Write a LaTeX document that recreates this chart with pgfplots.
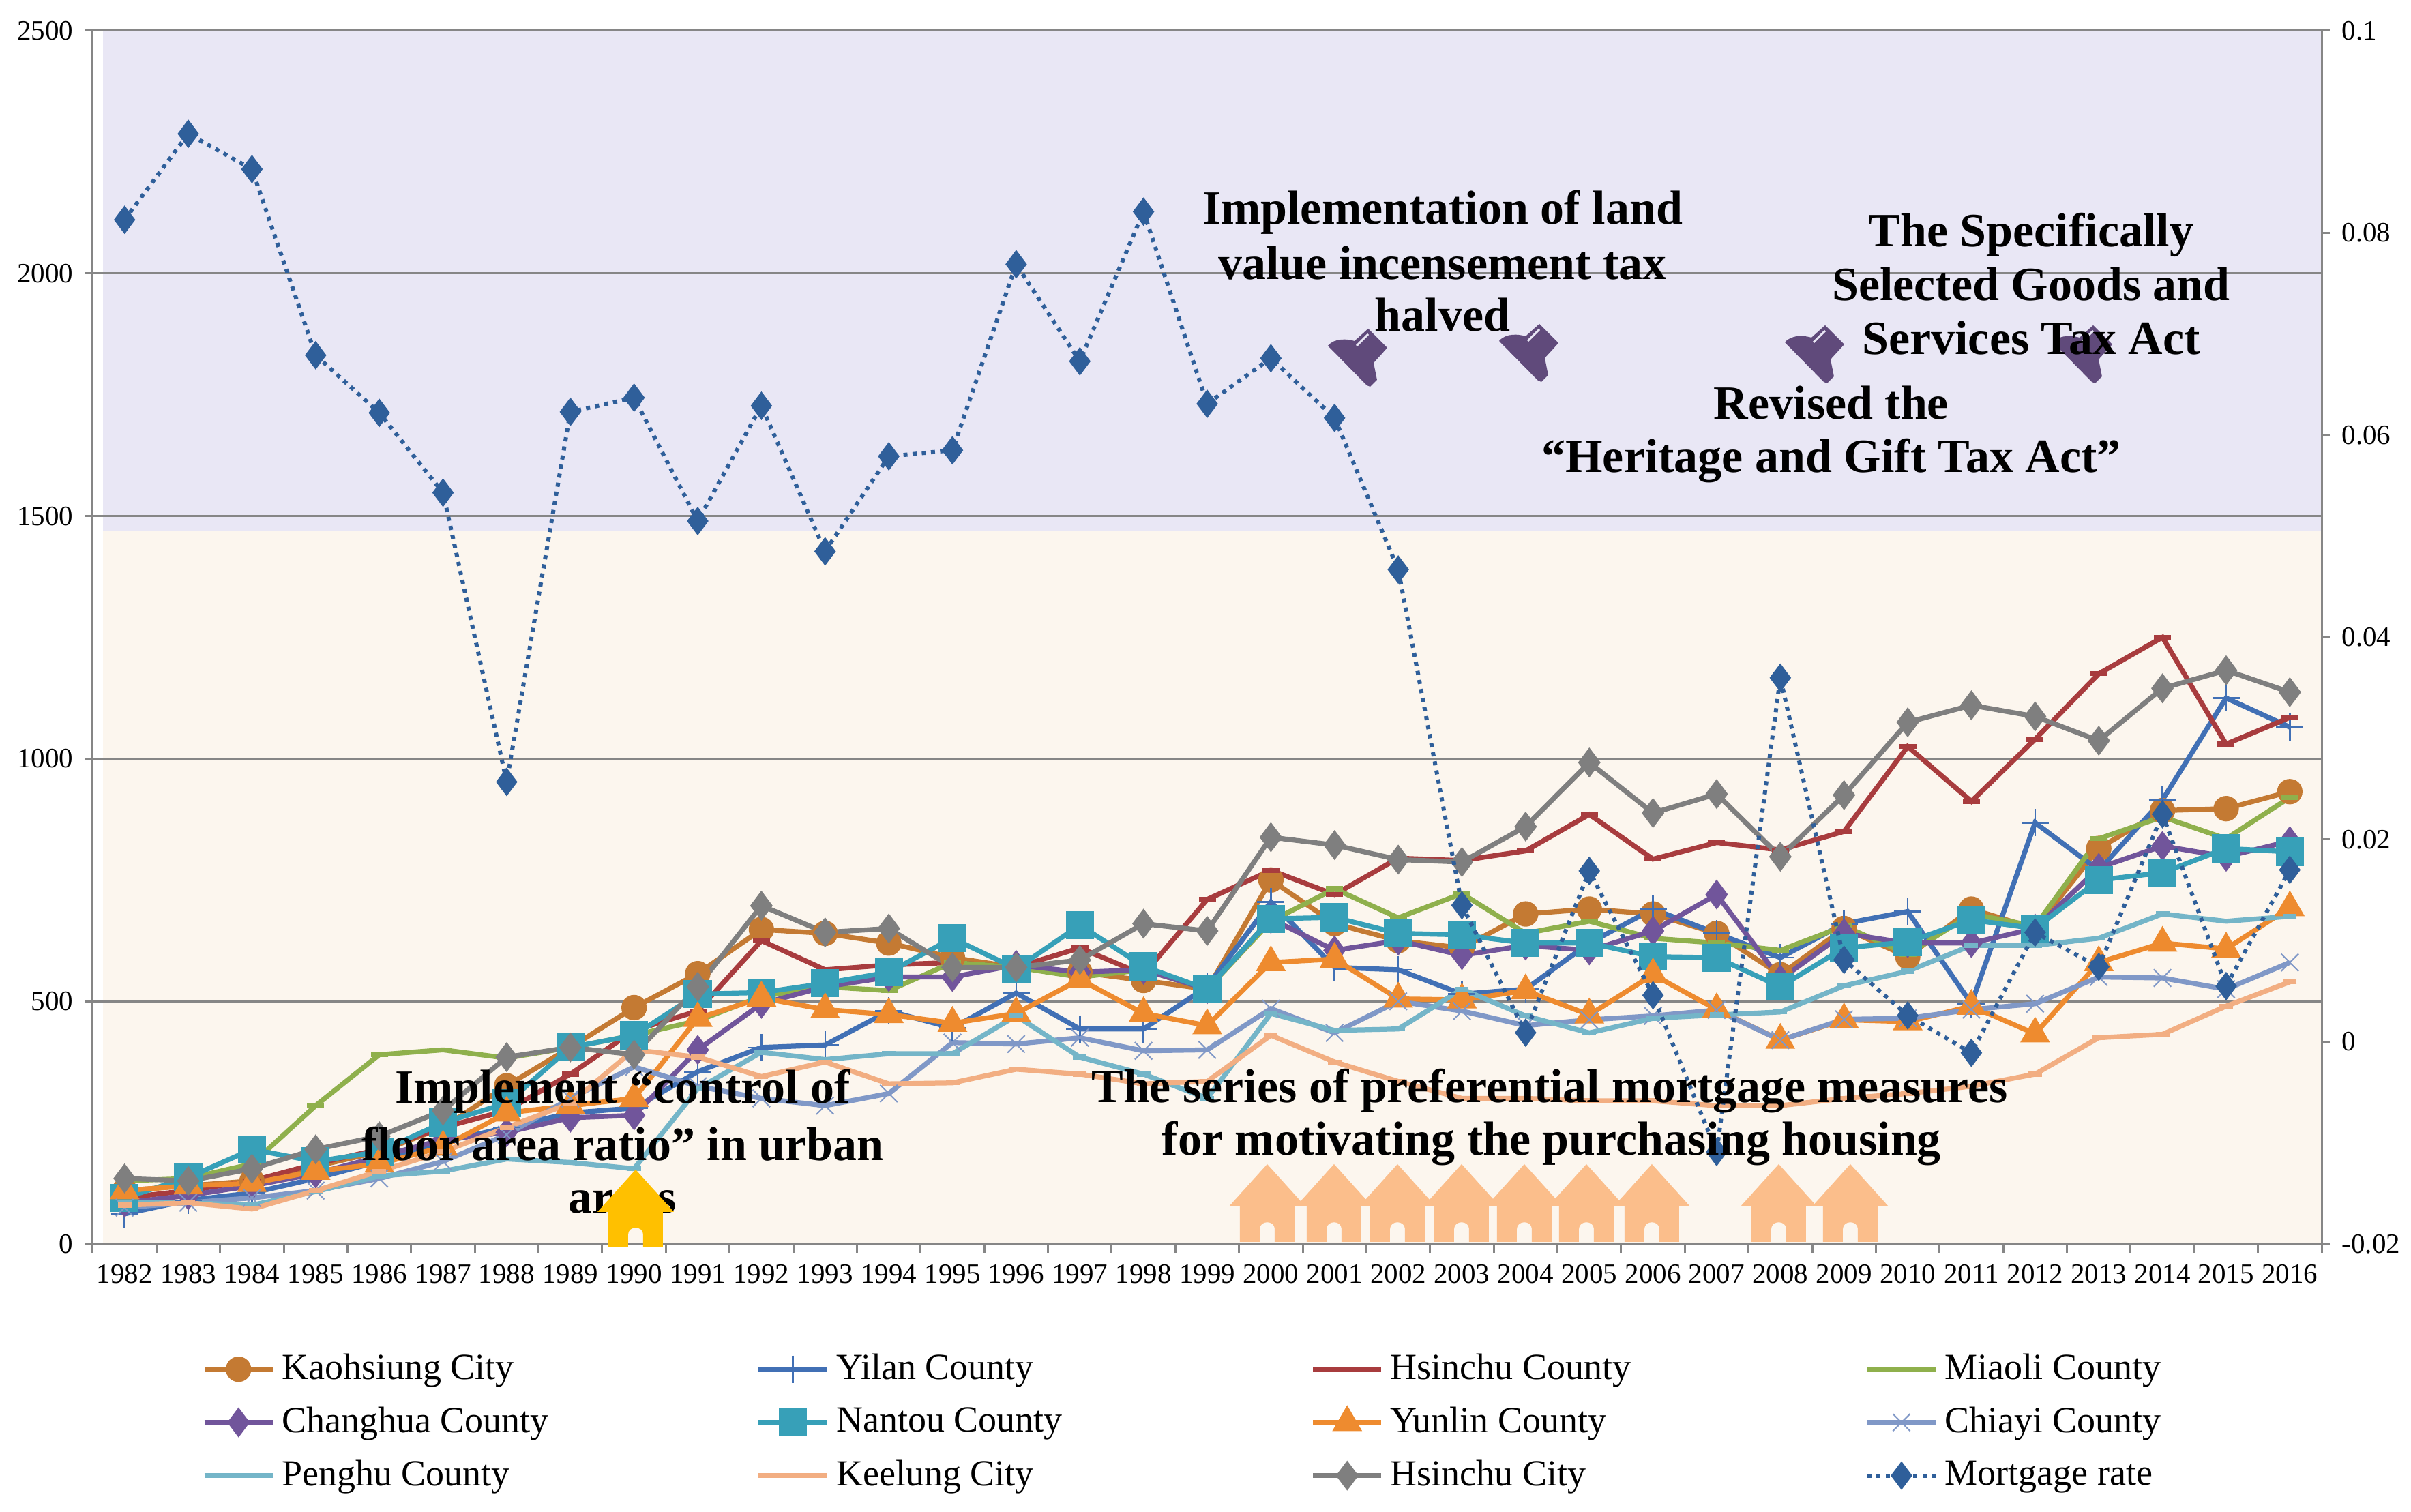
\documentclass[border=0pt]{standalone}
\usepackage{fontspec}
\usepackage{pgfplots}
\usepackage{pgfplotstable}
\pgfplotsset{compat=1.18}
\setmainfont{Liberation Serif}

\definecolor{axisgray}{HTML}{868686}
\definecolor{bandtop}{HTML}{E9E7F5}
\definecolor{bandlow}{HTML}{FCF6EE}
\definecolor{ckao}{HTML}{C47A33}
\definecolor{cyil}{HTML}{4170B5}
\definecolor{chcc}{HTML}{A83C3E}
\definecolor{cmia}{HTML}{8FB04C}
\definecolor{ccha}{HTML}{71559B}
\definecolor{cnan}{HTML}{37A0B8}
\definecolor{cyun}{HTML}{EE8B2F}
\definecolor{cchi}{HTML}{8098C7}
\definecolor{cpen}{HTML}{74B5C8}
\definecolor{ckee}{HTML}{F2AE82}
\definecolor{chct}{HTML}{7F7F7F}
\definecolor{cmor}{HTML}{2F5F9A}
\definecolor{chouse}{HTML}{FBBE8B}
\definecolor{cyellow}{HTML}{FFC000}
\definecolor{cbell}{HTML}{604A7B}

\pgfplotstableread{
idx kao yil hcc mia cha nan yun chi pen kee hct mor
0 110 62 95 130 85 95 110 75 85 80 135 0.0813
1 120 90 110 135 100 137 120 85 85 85 130 0.0898
2 130 105 130 165 120 195 125 95 80 72 155 0.0863
3 160 135 165 285 145 170 150 110 108 110 195 0.0679
4 190 170 195 390 180 190 165 135 140 150 222 0.0622
5 240 210 240 400 215 250 200 170 150 190 275 0.0543
6 326 240 275 383 230 290 270 225 175 240 385 0.0257
7 405 270 350 405 260 405 285 300 168 290 405 0.0623
8 487 280 440 430 265 430 300 365 155 400 390 0.0637
9 557 355 480 460 400 515 465 325 320 385 530 0.0515
10 648 405 625 510 495 518 507 300 395 345 697 0.0629
11 640 410 565 530 530 537 483 285 380 375 642 0.0485
12 620 480 575 522 550 560 473 310 392 330 650 0.0579
13 590 445 580 580 550 630 455 415 392 332 570 0.0585
14 570 517 570 570 575 567 475 412 470 360 570 0.0769
15 560 443 610 550 560 657 545 425 385 350 585 0.0673
16 543 443 555 565 565 572 475 398 350 330 660 0.0821
17 525 530 710 525 525 525 450 400 300 335 645 0.0631
18 750 705 770 665 670 670 580 485 475 430 838 0.0676
19 660 570 720 732 605 673 587 435 440 375 822 0.0617
20 625 565 795 672 625 640 505 500 443 335 792 0.0467
21 610 515 790 722 595 637 503 480 525 300 787 0.0135
22 680 525 810 640 615 620 522 450 470 300 860 0.0009
23 690 620 885 665 605 620 472 462 435 295 992 0.0169
24 680 690 793 630 645 592 555 470 465 295 888 0.0046
25 640 640 827 620 720 590 483 482 472 285 927 -0.0109
26 555 590 812 605 545 530 420 420 478 285 798 0.036
27 650 660 850 655 640 610 462 463 532 300 925 0.0081
28 592 685 1025 597 620 622 458 465 562 310 1075 0.0026
29 690 495 912 680 620 668 490 483 615 325 1110 -0.0011
30 650 868 1040 655 650 650 433 495 615 350 1087 0.0108
31 815 770 1175 835 775 750 580 550 630 425 1037 0.0074
32 893 915 1250 880 820 765 620 548 680 432 1145 0.0225
33 897 1125 1030 835 798 815 608 525 665 490 1182 0.0055
34 932 1065 1085 920 830 808 693 580 675 540 1137 0.017
}\datatable

% house and bell icons, coordinates in reference pixels
\newcommand{\house}[3]{%
  \fill[#3, shift={(#1,#2)}] (0,1707) -- (56,1769) -- (40,1769) -- (40,1821) -- (11,1821) -- (11,1802)
    .. controls (11,1789) and (-11,1789) .. (-11,1802) -- (-11,1821) -- (-40,1821) -- (-40,1769) -- (-56,1769) -- cycle;}
\newcommand{\bell}[2]{%
  \fill[cbell, shift={(#1,#2)}] (0,0) -- (10,-10) -- (5,-35) -- (25,-57) -- (-3,-85) -- (-23,-67)
    .. controls (-33,-70) and (-52,-72) .. (-62,-60) -- (-5,-2) -- cycle;
  \draw[bandtop, line width=0.6pt, shift={(#1,#2)}] (-20,-60) -- (-3,-77);}

\pgfplotsset{
  ser/.style={line width=1.45pt, mark options={solid}},
  legend image code/.code={
    \draw[mark repeat=2,mark phase=2,#1] plot coordinates {(0pt,0pt)(10pt,0pt)(20pt,0pt)};},
  base/.style={
    scale only axis, width=653.6pt, height=355.8pt,
    xmin=-0.5, xmax=34.5,
    axis line style={axisgray, line width=0.6pt},
    tick style={axisgray, line width=0.6pt},
    tick align=outside,
    clip=false,
  },
}

\begin{document}
\begin{tikzpicture}
\path[use as bounding box] (-27.2pt,-78.6pt) rectangle (679.8pt,364.8pt);
\begin{scope}[shift={(-27.2pt,364.8pt)}, x=0.2pt, y=-0.2pt]
  \fill[bandtop] (151,45) rectangle (3404,778);
  \fill[bandlow] (151,778) rectangle (3404,1824);
\end{scope}

\begin{axis}[base,
    font=\fontsize{8.2}{10}\selectfont,
    ymin=0, ymax=2500,
    axis x line*=bottom, axis y line*=left,
    ytick={0,500,1000,1500,2000,2500},
    yticklabels={0,500,1000,1500,2000,2500},
    ymajorgrids,
    grid style={axisgray, line width=0.6pt},
    major tick length=2.2pt,
    tick label style={font=\fontsize{8.2}{10}\selectfont},
    xtick={0,...,34},
    xticklabels={1982,1983,1984,1985,1986,1987,1988,1989,1990,1991,1992,1993,1994,1995,1996,1997,1998,1999,2000,2001,2002,2003,2004,2005,2006,2007,2008,2009,2010,2011,2012,2013,2014,2015,2016},
    minor xtick={-0.5,0.5,...,34.5},
    minor tick length=2.6pt,
    xtick style={draw=none},
    minor x tick style={draw=axisgray, line width=0.6pt},
    xticklabel style={yshift=-0.3pt},
    legend columns=4,
    legend cell align=left,
    legend style={
      at={(axis description cs:0.049,-0.085)}, anchor=north west,
      draw=none, fill=none, inner sep=0pt, outer sep=0pt,
      font=\fontsize{10.8}{12}\selectfont,
      row sep=2.6pt,
      /tikz/every even column/.append style={column sep=1pt},
    },
]
\addplot[ser, ckao, mark=*, mark size=3pt] table[x=idx,y=kao] {\datatable};
\addlegendentry{\makebox[136.1pt][l]{Kaohsiung City}}
\addplot[ser, cyil, mark=+, mark size=4pt, mark options={line width=0.5pt}] table[x=idx,y=yil] {\datatable};
\addlegendentry{\makebox[136.1pt][l]{Yilan County}}
\addplot[ser, chcc, mark=-, mark size=2.5pt] table[x=idx,y=hcc] {\datatable};
\addlegendentry{\makebox[136.1pt][l]{Hsinchu County}}
\addplot[ser, cmia, mark=-, mark size=2.5pt] table[x=idx,y=mia] {\datatable};
\addlegendentry{\makebox[100pt][l]{Miaoli County}}
\addplot[ser, ccha, mark=diamond*, mark size=3.2pt] table[x=idx,y=cha] {\datatable};
\addlegendentry{Changhua County}
\addplot[ser, cnan, mark=square*, mark size=3.4pt] table[x=idx,y=nan] {\datatable};
\addlegendentry{Nantou County}
\addplot[ser, cyun, mark=triangle*, mark size=3.6pt] table[x=idx,y=yun] {\datatable};
\addlegendentry{Yunlin County}
\addplot[ser, cchi, mark=x, mark size=3.6pt, mark options={line width=0.4pt}] table[x=idx,y=chi] {\datatable};
\addlegendentry{Chiayi County}
\addplot[ser, cpen, mark=-, mark size=2pt] table[x=idx,y=pen] {\datatable};
\addlegendentry{Penghu County}
\addplot[ser, ckee, mark=-, mark size=2pt] table[x=idx,y=kee] {\datatable};
\addlegendentry{Keelung City}
\addplot[ser, chct, mark=diamond*, mark size=3.2pt] table[x=idx,y=hct] {\datatable};
\addlegendentry{Hsinchu City}
\addlegendimage{line width=1.2pt, cmor, dash pattern=on 1.2pt off 1.5pt, mark=diamond*, mark size=3.2pt, mark options={solid}}
\addlegendentry{Mortgage rate}
\end{axis}

\begin{axis}[base,
    ymin=-0.02, ymax=0.1,
    axis x line=none, axis y line*=right,
    ytick={-0.02,0,0.02,0.04,0.06,0.08,0.1},
    yticklabels={-0.02,0,0.02,0.04,0.06,0.08,0.1},
    major tick length=2.4pt,
    tick label style={font=\fontsize{8.2}{10}\selectfont},
]
\addplot[line width=1.2pt, cmor, dash pattern=on 1.2pt off 1.5pt, mark=diamond*, mark size=3.2pt, mark options={solid}] table[x=idx,y=mor] {\datatable};
\end{axis}

\begin{scope}[shift={(-27.2pt,364.8pt)}, x=0.2pt, y=-0.2pt]
  \foreach \c in {1858,1956,2049,2143,2235,2326,2422,2608,2713} {\house{\c}{0}{chouse}}
  \bell{2009}{567}
  \bell{2260}{560}
  \bell{2679}{562}
  \bell{3072}{562}
  \tikzset{note/.style={font=\fontsize{14}{16}\selectfont\bfseries, inner sep=0pt, anchor=center}}
  \node[note] at (2115,311) {Implementation of land};
  \node[note] at (2115,386) {value incensement tax};
  \node[note] at (2115,462) {halved};
  \node[note] at (2978,344) {The Specifically};
  \node[note] at (2978,417) {Selected Goods and};
  \node[note] at (2978,496) {Services Tax Act};
  \node[note] at (2685,591) {Revised the};
  \node[note] at (2685,676) {“Heritage and Gift Tax Act”};
  \node[note] at (913,1600) {Implement “control of};
  \node[note] at (913,1677) {floor area ratio” in urban};
  \node[note] at (913,1762) {areas};
  \node[note] at (2272,1600) {The series of preferential mortgage measures};
  \node[note] at (2275,1677) {for motivating the purchasing housing};
  \house{932}{8}{cyellow}
\end{scope}
\end{tikzpicture}
\end{document}
